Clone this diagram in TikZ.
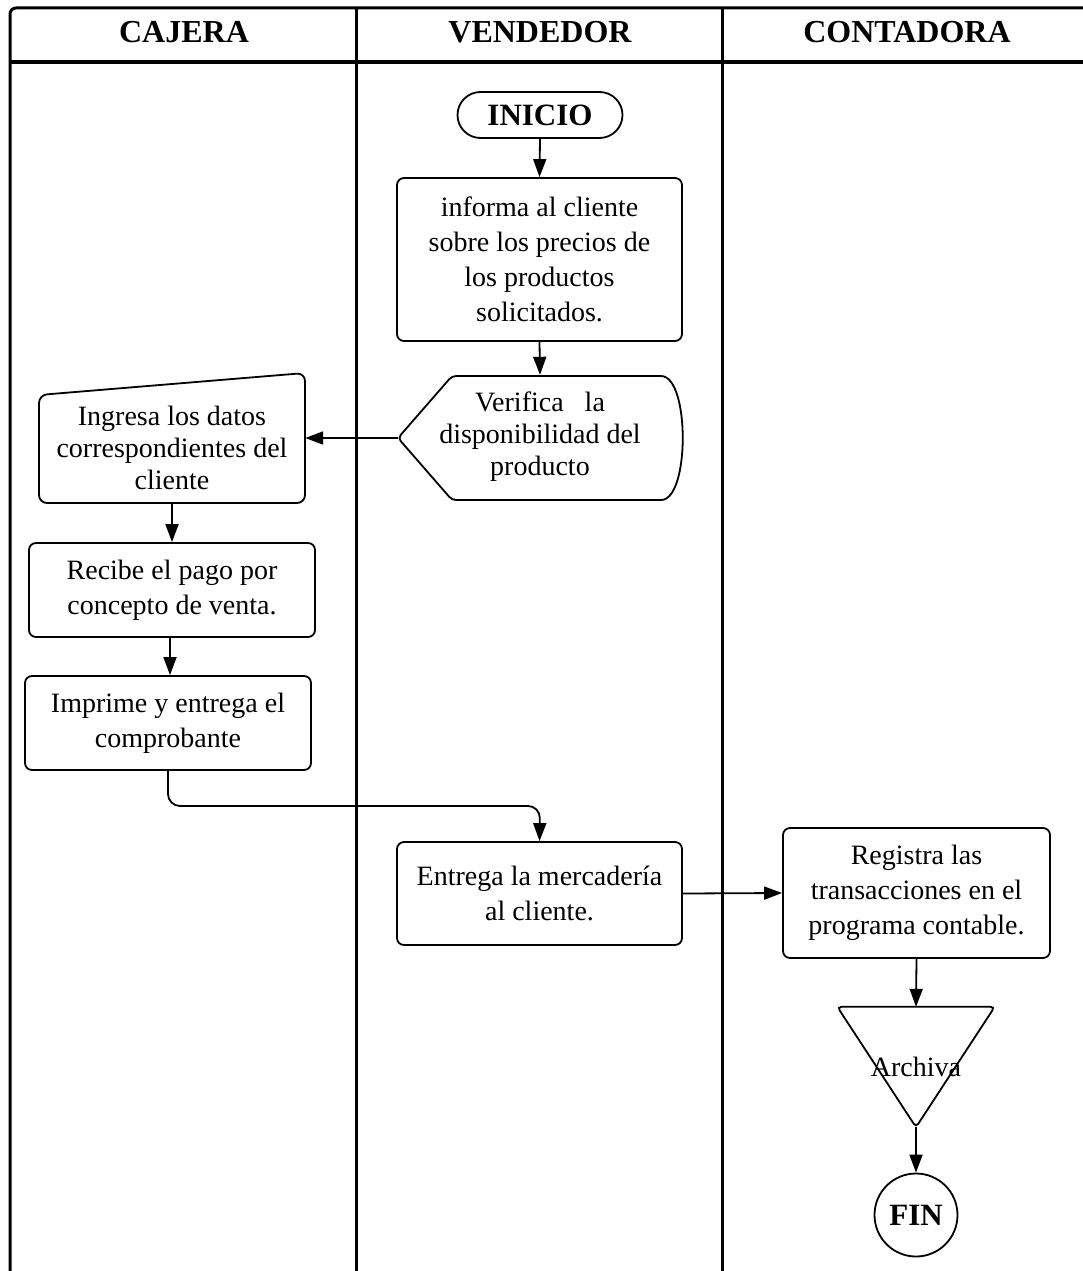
\documentclass[tikz,border=0pt]{standalone}
\usepackage{fontspec}
\setmainfont{Liberation Serif}
\usetikzlibrary{arrows.meta,shapes.misc,calc}

\newcommand\flowtext{\fontsize{28}{35}\selectfont}
\newcommand\tighttext{\fontsize{28}{32}\selectfont}
\newcommand\headtext{\fontsize{32}{38}\selectfont\bfseries}
\newcommand\termtext{\fontsize{31}{36}\selectfont\bfseries}

\begin{document}
\begin{tikzpicture}[x=1pt,y=-1pt,
  lane/.style={line width=3pt},
  outline/.style={draw, line width=1.8pt},
  box/.style={outline, rounded corners=7pt, align=center, font=\flowtext, inner sep=0pt},
  label/.style={align=center, font=\flowtext, inner sep=0pt},
  arr/.style={line width=1.8pt, -{Triangle[length=18pt,width=13pt]}}]

\useasboundingbox (0,0) rectangle (1083,1271);
\clip (0,0) rectangle (1083,1271);

% swimlane frame
\draw[lane, rounded corners=6pt] (10,1300) -- (10,8) -- (1100,8);
\draw[line width=3.5pt] (10,62) -- (1100,62);
\draw[lane] (356,8) -- (356,1300);
\draw[lane] (722,8) -- (722,1300);

\node[font=\headtext] (hcaj) at (184,32) {CAJERA};
\node[font=\headtext] (hven) at (540,32) {VENDEDOR};
\node[font=\headtext] (hcon) at (907,32) {CONTADORA};

% VENDEDOR
\node[outline, rounded rectangle, minimum width=165pt, minimum height=46pt,
      inner sep=0pt, font=\termtext] (ini) at (540,115) {INICIO};

\node[box, minimum width=285pt, minimum height=163pt] (inf) at (539.5,259.5)
  {informa al cliente\\sobre los precios de\\los productos\\solicitados.};

\node[label, font=\tighttext, minimum width=285pt, minimum height=124pt] (ver) at (540,437)
  {Verifica\ \ \ la\\disponibilidad del\\producto};
\draw[line width=1.8pt, rounded corners=4pt]
  (398,438) -- (452,376) -- (657,376)
  .. controls (690,376) and (690,500) .. (657,500) -- (452,500) -- cycle;

\node[box, minimum width=285pt, minimum height=103pt] (ent) at (539.5,893.5)
  {Entrega la mercadería\\al cliente.};

% CAJERA
\node[label, font=\tighttext, minimum width=266pt, minimum height=110pt] (ing) at (172,448)
  {Ingresa los datos\\correspondientes del\\cliente};
\draw[line width=1.8pt, rounded corners=8pt]
  (39,395) -- (305,373) -- (305,503) -- (39,503) -- cycle;

\node[box, minimum width=286pt, minimum height=94pt] (rec) at (172,590)
  {Recibe el pago por\\concepto de venta.};

\node[box, minimum width=286pt, minimum height=94pt] (imp) at (168,723)
  {Imprime y entrega el\\comprobante};

% CONTADORA
\node[box, minimum width=267pt, minimum height=130pt] (reg) at (916.5,893)
  {Registra las\\transacciones en el\\programa contable.};

\node[label, minimum width=157pt, minimum height=120pt] (arch) at (916,1067) {Archiva};
\draw[line width=1.8pt, rounded corners=4pt]
  (arch.north west) -- (arch.north east) -- (arch.south) -- cycle;

\node[outline, circle, minimum size=83pt, inner sep=0pt, font=\termtext] (fin) at (916,1215) {FIN};

% connectors
\coordinate (turn) at (540,806);
\draw[arr] (ini.south) -- (inf.north);
\draw[arr] (inf.south) -- (ver.north);
\draw[arr] (398,438) -- (398,438 -| ing.east);
\draw[arr] (ing.south) -- (rec.north);
\draw[arr] ($(rec.south)+(-2,0)$) -- ($(imp.north)+(2,0)$);
\draw[arr, rounded corners=12pt] (imp.south) |- (turn) -- (ent.north);
\draw[arr] (ent.east) -- (reg.west);
\draw[arr] (reg.south) -- (arch.north);
\draw[arr] (arch.south) -- (fin.north);
\end{tikzpicture}
\end{document}
